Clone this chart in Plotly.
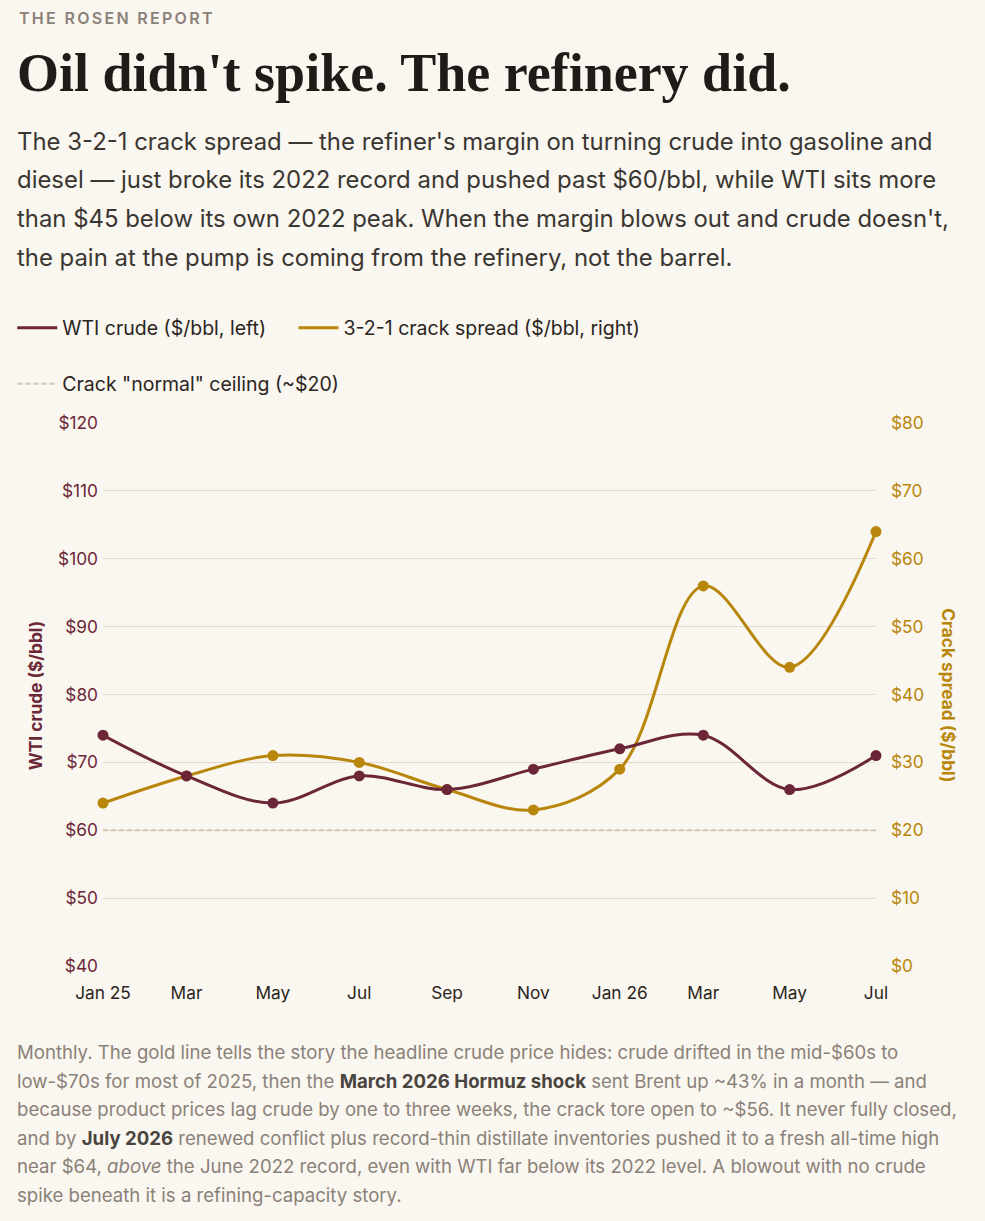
import plotly.graph_objects as go

# monthly points, every other month
months = ["2025-01-01", "2025-03-01", "2025-05-01", "2025-07-01", "2025-09-01",
          "2025-11-01", "2026-01-01", "2026-03-01", "2026-05-01", "2026-07-01"]
tick_labels = ["Jan 25", "Mar", "May", "Jul", "Sep", "Nov", "Jan 26", "Mar", "May", "Jul"]

wti_crude = [74, 68, 64, 68, 66, 69, 72, 74, 66, 71]
crack_spread = [24, 28, 31, 30, 26, 23, 29, 56, 44, 64]
crack_ceiling = [20] * len(months)

MAROON = "#6b2737"
GOLD = "#b8860b"
BEIGE = "#d6c7b4"
BG = "#faf6f0"
INK = "#2a2520"
MUTED = "#8a8178"

W, H = 985, 1221
L, R, T, B = 101, 109, 423, 255
PW, PH = W - L - R, H - T - B


def px(x):
    return (x - L) / PW


def py(y):
    return (H - B - y) / PH


fig = go.Figure()

# crack spread sits on the primary axis (right side) so WTI on the overlay draws on top
fig.add_trace(go.Scatter(
    x=months, y=crack_ceiling, mode="lines",
    line=dict(color=BEIGE, width=2, dash="5px,3px"),
    name='Crack "normal" ceiling (~$20)', legend="legend3",
    hoverinfo="skip",
))
fig.add_trace(go.Scatter(
    x=months, y=crack_spread, mode="lines",
    line=dict(color=GOLD, width=3, shape="spline", smoothing=1),
    name="3-2-1 crack spread ($/bbl, right)", legend="legend2",
))
fig.add_trace(go.Scatter(
    x=months, y=crack_spread, mode="markers", showlegend=False,
    marker=dict(size=11, color=GOLD), cliponaxis=False,
))
fig.add_trace(go.Scatter(
    x=months, y=wti_crude, mode="lines", yaxis="y2",
    line=dict(color=MAROON, width=3, shape="spline", smoothing=1),
    name="WTI crude ($/bbl, left)", legend="legend",
))
fig.add_trace(go.Scatter(
    x=months, y=wti_crude, mode="markers", yaxis="y2", showlegend=False,
    marker=dict(size=11, color=MAROON), cliponaxis=False,
))

annotations = []

annotations.append(dict(text="<span style='letter-spacing:2.3px'>THE ROSEN REPORT</span>",
                        x=px(15), y=py(18),
                        font=dict(family="Inter", size=16, color=MUTED, weight=600)))
annotations.append(dict(text="<b>Oil didn't spike. The refinery did.</b>", x=px(13), y=py(73),
                        font=dict(family="Liberation Serif", size=54, color="#1f1b17")))

subtitle = [
    "The 3-2-1 crack spread \u2014 the refiner's margin on turning crude into gasoline and",
    "diesel \u2014 just broke its 2022 record and pushed past $60/bbl, while WTI sits more",
    "than $45 below its own 2022 peak. When the margin blows out and crude doesn't,",
    "the pain at the pump is coming from the refinery, not the barrel.",
]
for i, line in enumerate(subtitle):
    annotations.append(dict(text=line, x=px(13), y=py(141 + i * 38.7),
                            font=dict(family="Inter", size=23.9, color="#3a3632")))

footnote = [
    "Monthly. The gold line tells the story the headline crude price hides: crude drifted in the mid-$60s to",
    "low-$70s for most of 2025, then the <b style='color:#4a443e'>March 2026 Hormuz shock</b> sent Brent up ~43% in a month \u2014 and",
    "because product prices lag crude by one to three weeks, the crack tore open to ~$56. It never fully closed,",
    "and by <b style='color:#4a443e'>July 2026</b> renewed conflict plus record-thin distillate inventories pushed it to a fresh all-time high",
    "near $64, <i>above</i> the June 2022 record, even with WTI far below its 2022 level. A blowout with no crude",
    "spike beneath it is a refining-capacity story.",
]
for i, line in enumerate(footnote):
    annotations.append(dict(text=line, x=px(13), y=py(1052 + i * 28.6),
                            font=dict(family="Inter", size=18.6, color=MUTED)))

for a in annotations:
    a.update(xref="paper", yref="paper", xanchor="left", yanchor="middle",
             showarrow=False, align="left")

# axis titles (right one reads top to bottom)
annotations.append(dict(text="<b>WTI crude ($/bbl)</b>", x=px(33), y=py(695), textangle=-90,
                        xref="paper", yref="paper", xanchor="center", yanchor="middle",
                        showarrow=False,
                        font=dict(family="Inter", size=17.3, color=MAROON)))
annotations.append(dict(text="<b>Crack spread ($/bbl)</b>", x=px(949), y=py(695), textangle=90,
                        xref="paper", yref="paper", xanchor="center", yanchor="middle",
                        showarrow=False,
                        font=dict(family="Inter", size=17.3, color=GOLD)))

legend_style = dict(orientation="h", xanchor="left", yanchor="middle",
                    font=dict(family="Inter", size=19.5, color=INK),
                    bgcolor="rgba(0,0,0,0)", itemwidth=40)

fig.update_layout(
    width=W, height=H,
    margin=dict(l=L, r=R, t=T, b=B, pad=0),
    paper_bgcolor=BG, plot_bgcolor=BG,
    font=dict(family="Inter", color=INK),
    showlegend=True,
    legend=dict(x=px(10), y=py(328), **legend_style),
    legend2=dict(x=px(292), y=py(328), **legend_style),
    legend3=dict(x=px(10), y=py(384), **legend_style),
    xaxis=dict(
        type="date", range=[months[0], months[-1]],
        tickvals=months, ticktext=tick_labels,
        showgrid=False, zeroline=False, showline=False, ticks="",
        tickfont=dict(family="Inter", size=17.3, color=INK),
        ticklabelstandoff=15,
    ),
    yaxis=dict(
        side="right", range=[0, 80], dtick=10, tickprefix="$",
        showgrid=True, gridcolor="#e3dbcf", gridwidth=1,
        zeroline=False, showline=False, ticks="",
        tickfont=dict(family="Inter", size=17.3, color=GOLD),
        ticklabelstandoff=14,
    ),
    yaxis2=dict(
        side="left", overlaying="y", range=[40, 120], dtick=10, tickprefix="$",
        showgrid=False, zeroline=False, showline=False, ticks="",
        tickfont=dict(family="Inter", size=17.3, color=MAROON),
        ticklabelstandoff=4,
    ),
    annotations=annotations,
)

# drop the page's default body margin so the figure fills the window
fig.write_html("out.html", config={"displayModeBar": False}, post_script=(
    "document.body.style.margin='0';"
    "document.body.style.background='" + BG + "';"
))
